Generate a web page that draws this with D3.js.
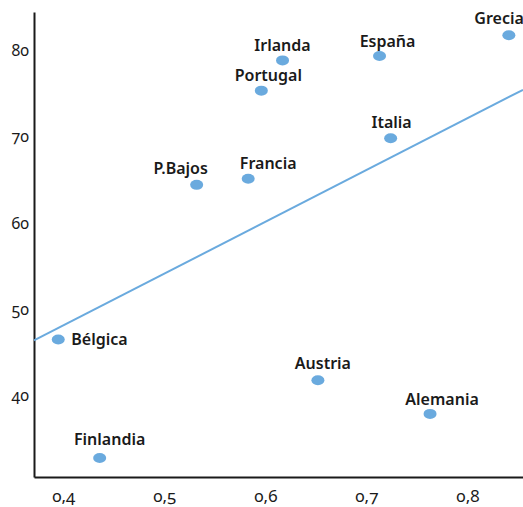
<!DOCTYPE html>
<meta charset="utf-8">
<script src="https://d3js.org/d3.v7.min.js"></script>
<style>
    body { margin: 0; background: #fff; }
    svg text { font-family: "Noto Sans", "Open Sans", sans-serif; font-feature-settings: "onum" 1; }
    .axis text { fill: #1a1a1a; }
    .x-axis text { font-size: 17px; }
    .y-axis text { font-size: 16px; }
    .label { font-size: 16px; font-weight: 600; fill: #1a1a1a; }
</style>
<svg width="523" height="507"></svg>
<script>
    // countries and their values
    var countries = ["Bélgica", "Finlandia", "P.Bajos", "Francia", "Portugal", "Irlanda", "España", "Grecia", "Italia", "Austria", "Alemania"];
    var xValues = [0.395, 0.436, 0.532, 0.583, 0.596, 0.617, 0.713, 0.841, 0.724, 0.652, 0.763];
    var yValues = [46.5, 32.8, 64.4, 65.1, 75.3, 78.8, 79.3, 81.7, 69.8, 41.8, 37.9];
    var trendX = [0.371, 0.855];
    var trendY = [46.4, 75.4];
    var xTicks = [0.4, 0.5, 0.6, 0.7, 0.8];
    var yTicks = [40, 50, 60, 70, 80];

    // label placement relative to the dot: [dx, dy, anchor]
    var labelPos = {
        "Bélgica": [13, 5, "start"],
        "Finlandia": [10, -13, "middle"],
        "P.Bajos": [-16, -11, "middle"],
        "Francia": [20, -10, "middle"],
        "Portugal": [7, -10, "middle"],
        "Irlanda": [0, -9, "middle"],
        "España": [8, -9, "middle"],
        "Grecia": [15, -11, "end"],
        "Italia": [1, -10, "middle"],
        "Austria": [5, -11, "middle"],
        "Alemania": [12, -9, "middle"]
    };

    var svg = d3.select("svg");
    var mLeft = 34, mRight = 523, mTop = 12, mBottom = 477;

    var x = d3.scaleLinear().domain([0.371, 0.855]).range([mLeft, mRight]);
    var y = d3.scaleLinear().domain([30.6, 84.4]).range([mBottom, mTop]);

    var comma = function(d) { return d3.format(".1f")(d).replace(".", ","); };

    svg.append("g")
        .attr("class", "axis x-axis")
        .attr("transform", "translate(0," + mBottom + ")")
        .call(d3.axisBottom(x).tickValues(xTicks).tickSize(0).tickPadding(13).tickFormat(comma))
        .call(function(g) { g.select(".domain").attr("stroke", "#1a1a1a").attr("stroke-width", 2); });

    svg.append("g")
        .attr("class", "axis y-axis")
        .attr("transform", "translate(" + mLeft + ",0)")
        .call(d3.axisLeft(y).tickValues(yTicks).tickSize(0).tickPadding(5))
        .call(function(g) { g.select(".domain").attr("stroke", "#1a1a1a").attr("stroke-width", 2); });

    svg.append("line")
        .attr("x1", x(trendX[0])).attr("y1", y(trendY[0]))
        .attr("x2", x(trendX[1])).attr("y2", y(trendY[1]))
        .attr("stroke", "#6aaade")
        .attr("stroke-width", 2);

    var pts = countries.map(function(c, i) { return { name: c, x: xValues[i], y: yValues[i] }; });

    svg.selectAll("ellipse")
        .data(pts)
        .enter().append("ellipse")
        .attr("cx", function(d) { return x(d.x); })
        .attr("cy", function(d) { return y(d.y); })
        .attr("rx", 6.5)
        .attr("ry", 5)
        .attr("fill", "#6aaade");

    svg.selectAll(".label")
        .data(pts)
        .enter().append("text")
        .attr("class", "label")
        .attr("x", function(d) { return x(d.x) + labelPos[d.name][0]; })
        .attr("y", function(d) { return y(d.y) + labelPos[d.name][1]; })
        .attr("text-anchor", function(d) { return labelPos[d.name][2]; })
        .text(function(d) { return d.name; });
</script>
